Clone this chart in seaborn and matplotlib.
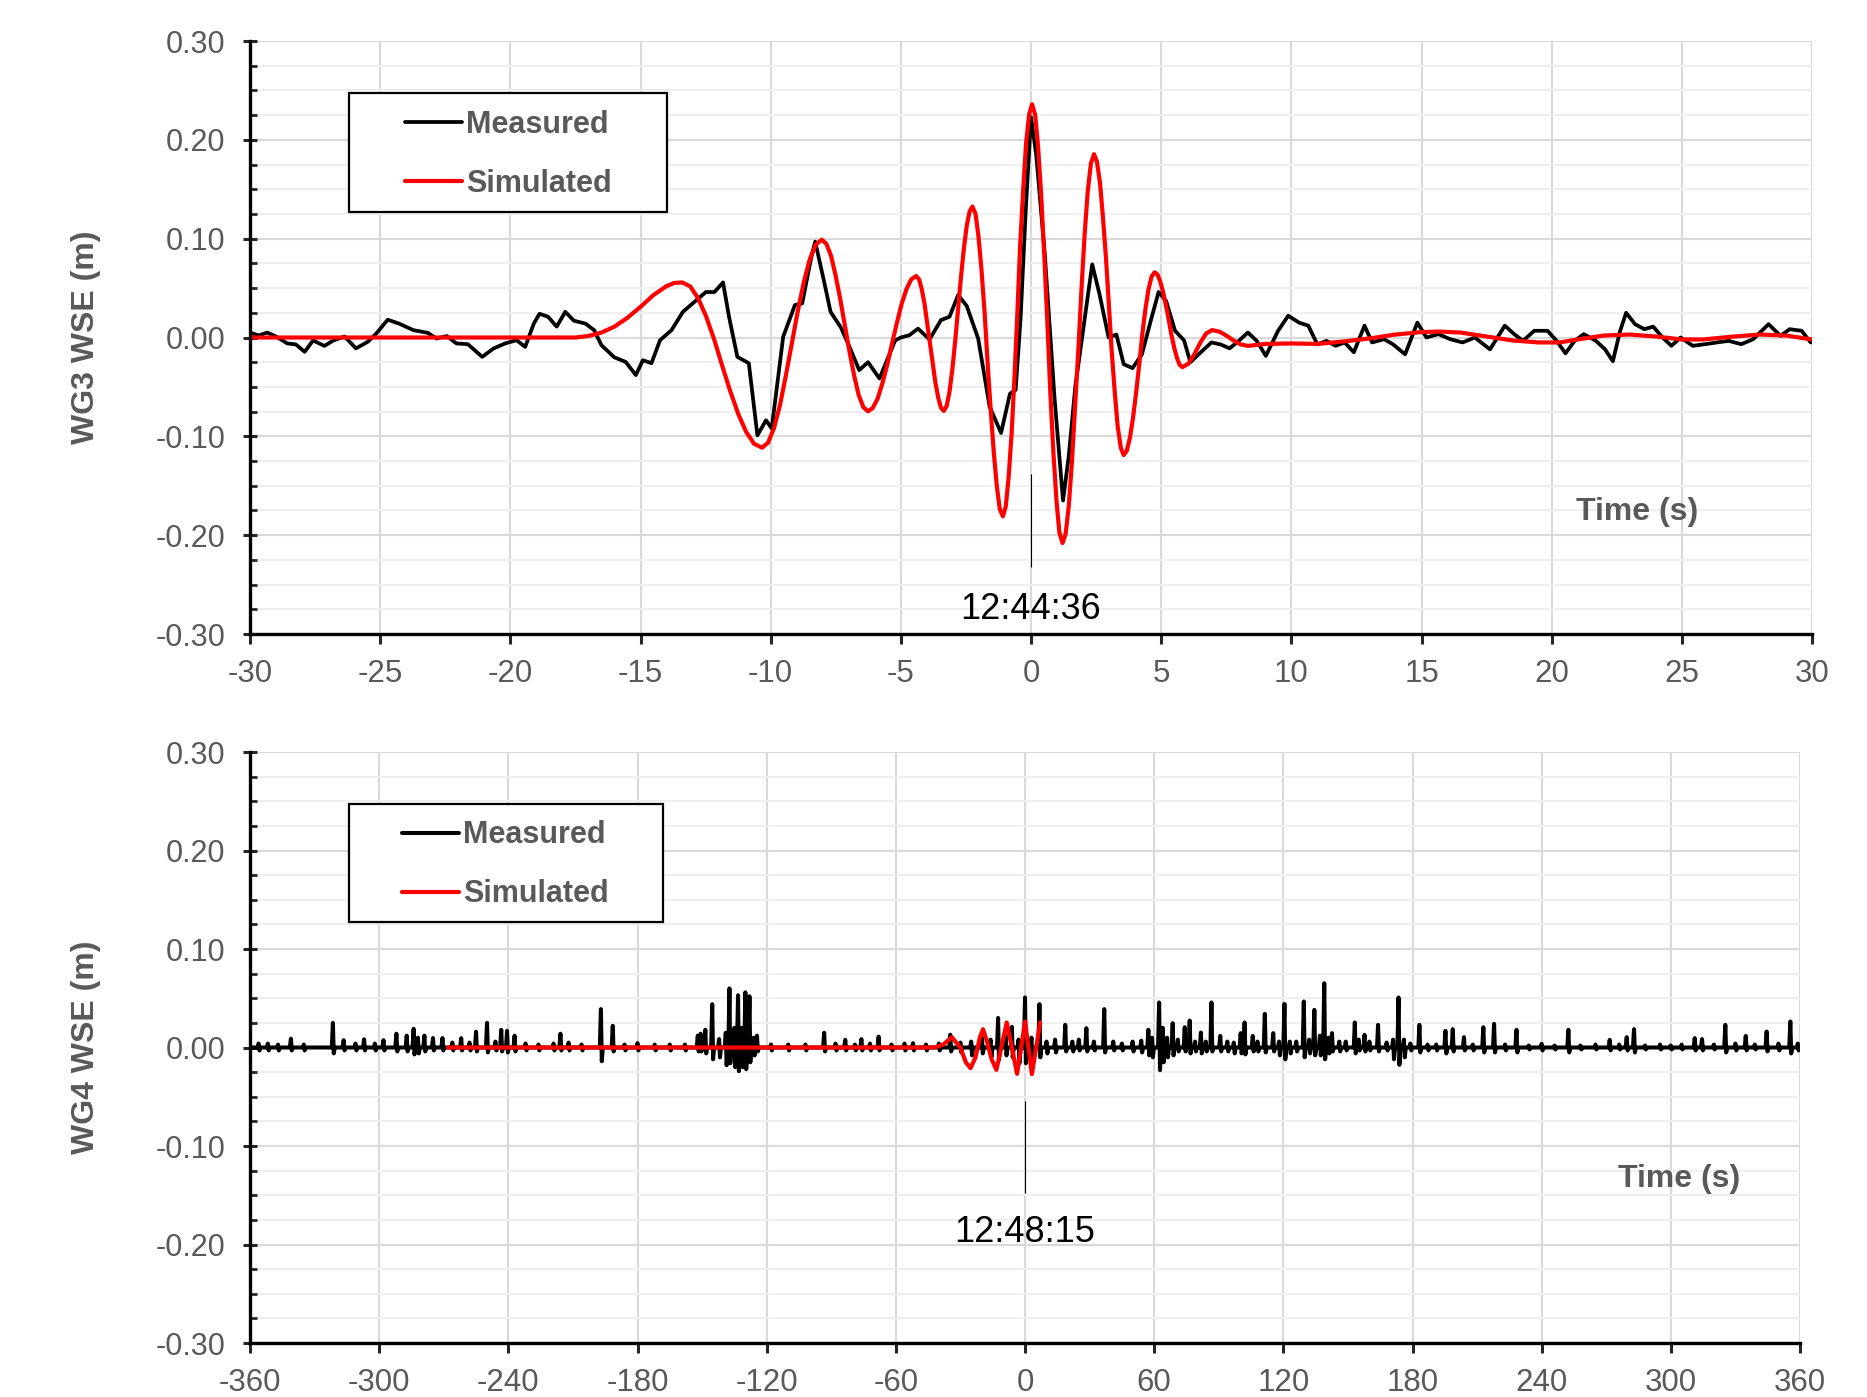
import pandas as pd
import matplotlib.pyplot as plt
import seaborn as sns
from matplotlib.patches import Rectangle
from matplotlib.ticker import MultipleLocator

# ---- WG3: measured vs simulated water surface elevation (time in s, WSE in m)
wg3_meas_t = [-30.0, -29.67, -29.34, -29.0, -28.57, -28.24, -27.9, -27.58, -27.14, -26.8,
              -26.37, -25.93, -25.48, -25.15, -24.71, -24.27, -23.72, -23.17, -22.84, -22.44,
              -22.07, -21.63, -21.08, -20.64, -20.2, -19.76, -19.43, -19.1, -18.88, -18.55,
              -18.22, -17.89, -17.56, -17.11, -16.78, -16.5, -16.01, -15.57, -15.18, -14.91,
              -14.58, -14.25, -13.81, -13.37, -12.93, -12.49, -12.16, -11.83, -11.6, -11.28,
              -10.84, -10.51, -10.18, -9.96, -9.52, -9.07, -8.79, -8.45, -8.29, -7.96,
              -7.7, -7.3, -7.03, -6.6, -6.26, -5.82, -5.22, -5.0, -4.67, -4.34,
              -3.9, -3.46, -3.13, -2.8, -2.47, -2.03, -1.59, -1.15, -0.81, -0.59,
              -0.4, -0.2, 0.0, 0.2, 0.53, 0.9, 1.23, 1.45, 1.7, 2.05,
              2.35, 2.63, 2.98, 3.28, 3.56, 3.9, 4.26, 4.6, 4.9, 5.19,
              5.53, 5.88, 6.12, 6.58, 6.93, 7.28, 7.63, 7.98, 8.33, 8.67,
              9.02, 9.49, 9.88, 10.3, 10.65, 11.0, 11.35, 11.7, 12.05, 12.4,
              12.81, 13.1, 13.56, 13.9, 14.37, 14.84, 15.19, 15.65, 16.1, 16.58,
              17.05, 17.63, 18.2, 18.56, 18.9, 19.33, 19.84, 20.19, 20.53, 20.88,
              21.23, 21.7, 22.05, 22.35, 22.63, 22.86, 23.2, 23.56, 23.9, 24.26,
              24.6, 24.95, 25.42, 25.88, 26.35, 26.8, 27.28, 27.74, 28.33, 28.79,
              29.14, 29.6, 29.95]
wg3_meas_v = [0.005, 0.002, 0.005, 0.001, -0.006, -0.007, -0.0145, -0.003, -0.0085, -0.003,
              0.001, -0.011, -0.0044, 0.004, 0.018, 0.014, 0.0074, 0.0047, -0.001, 0.0014,
              -0.006, -0.0068, -0.0196, -0.011, -0.006, -0.0027, -0.0095, 0.014, 0.024, 0.021,
              0.011, 0.026, 0.017, 0.014, 0.0074, -0.0078, -0.02, -0.0247, -0.038, -0.023,
              -0.026, -0.0027, 0.0074, 0.026, 0.036, 0.046, 0.046, 0.0557, 0.021, -0.0196,
              -0.026, -0.099, -0.0838, -0.092, 0.0007, 0.0328, 0.0345, 0.08, 0.097, 0.058,
              0.026, 0.01, -0.006, -0.033, -0.025, -0.0415, -0.003, 0.0, 0.0024, 0.009,
              -0.002, 0.0176, 0.021, 0.043, 0.032, -0.001, -0.07, -0.0966, -0.057, -0.053,
              0.02, 0.13, 0.223, 0.185, 0.084, -0.06, -0.165, -0.12, -0.05, 0.017,
              0.074, 0.044, 0.0, 0.003, -0.027, -0.031, -0.017, 0.017, 0.046, 0.037,
              0.007, -0.003, -0.025, -0.0135, -0.005, -0.007, -0.011, -0.0034, 0.005, -0.0034,
              -0.0186, 0.0068, 0.022, 0.015, 0.012, -0.007, -0.0034, -0.0084, -0.005, -0.015,
              0.012, -0.005, -0.0017, -0.0068, -0.017, 0.015, 0.0, 0.0034, -0.0017, -0.005,
              0.0, -0.012, 0.012, 0.0034, -0.0034, 0.0068, 0.0068, -0.0034, -0.016, -0.0034,
              0.0034, -0.0034, -0.012, -0.024, 0.0068, 0.025, 0.0135, 0.0084, 0.011, 0.0,
              -0.0084, 0.0, -0.0084, -0.0068, -0.005, -0.0034, -0.0068, -0.0017, 0.0135, 0.0017,
              0.0084, 0.0068, -0.005]

wg3_sim_t = [-30.0, -17.5, -17.0, -16.5, -16.0, -15.5, -15.0, -14.5, -14.0, -13.7, -13.4,
             -13.09, -12.79, -12.48, -12.17, -11.87, -11.56, -11.25, -10.94, -10.64, -10.33,
             -10.10, -9.87, -9.64, -9.42, -9.19, -8.96, -8.73, -8.50, -8.27, -8.04,
             -7.86, -7.68, -7.51, -7.33, -7.15, -6.97, -6.79, -6.62, -6.44, -6.26,
             -6.08, -5.89, -5.71, -5.52, -5.34, -5.15, -4.97, -4.78, -4.60, -4.41,
             -4.30, -4.20, -4.09, -3.99, -3.88, -3.77, -3.67, -3.56, -3.46, -3.35,
             -3.24, -3.13, -3.02, -2.91, -2.80, -2.69, -2.58, -2.47, -2.36, -2.25,
             -2.13, -2.02, -1.90, -1.78, -1.67, -1.55, -1.43, -1.31, -1.20, -1.08,
             -0.97, -0.86, -0.74, -0.63, -0.52, -0.42, -0.30, -0.19, -0.07, 0.04,
             0.16, 0.27, 0.39, 0.51, 0.63, 0.74, 0.86, 0.98, 1.09, 1.21,
             1.33, 1.45, 1.57, 1.69, 1.82, 1.94, 2.06, 2.18, 2.30, 2.42,
             2.53, 2.65, 2.76, 2.88, 2.99, 3.10, 3.22, 3.33, 3.45, 3.56,
             3.68, 3.80, 3.92, 4.04, 4.16, 4.27, 4.39, 4.51, 4.63, 4.75,
             4.86, 4.96, 5.07, 5.18, 5.29, 5.39, 5.50, 5.61, 5.71, 5.82,
             6.05, 6.27, 6.50, 6.72, 6.95, 7.23, 7.50, 7.78, 8.05, 8.33,
             9.0, 10.0, 11.0, 12.0, 13.0, 14.0, 15.0, 15.7, 16.5, 17.5, 18.5, 19.5,
             20.3, 21.0, 22.0, 23.0, 24.0, 25.0, 25.8, 27.0, 28.0, 29.0, 30.0]
wg3_sim_v = [0.0, 0.0, 0.0015, 0.005, 0.011, 0.02, 0.031, 0.043, 0.052, 0.0552, 0.0557,
             0.0517, 0.0398, 0.0213, -0.002, -0.0279, -0.0538, -0.0771, -0.0956, -0.1075, -0.1115,
             -0.1064, -0.0915, -0.0681, -0.0389, -0.0063, 0.0264, 0.0557, 0.0790, 0.0939, 0.099,
             0.0948, 0.0825, 0.0632, 0.0391, 0.0122, -0.0148, -0.0389, -0.0582, -0.0705, -0.0747,
             -0.0714, -0.0617, -0.0465, -0.0275, -0.0063, 0.0150, 0.0340, 0.0492, 0.0589, 0.0622,
             0.0589, 0.0492, 0.0341, 0.0151, -0.0061, -0.0272, -0.0462, -0.0613, -0.0710, -0.0743,
             -0.0693, -0.0547, -0.0317, -0.0030, 0.0291, 0.0612, 0.0899, 0.1129, 0.1275, 0.1325,
             0.1250, 0.1027, 0.0679, 0.0243, -0.0243, -0.0728, -0.1164, -0.1512, -0.1735, -0.181,
             -0.171, -0.1414, -0.0951, -0.0371, 0.0275, 0.0921, 0.1501, 0.1964, 0.2260, 0.236,
             0.2253, 0.1938, 0.1445, 0.0828, 0.014, -0.0548, -0.1165, -0.1658, -0.1973, -0.208,
             -0.1986, -0.1706, -0.1269, -0.0722, -0.0113, 0.0497, 0.1044, 0.1481, 0.1761, 0.1855,
             0.1782, 0.1566, 0.1228, 0.0805, 0.0333, -0.0140, -0.0563, -0.0901, -0.1117, -0.119,
             -0.1146, -0.1014, -0.0809, -0.0552, -0.0265, 0.0022, 0.0279, 0.0484, 0.0616, 0.066,
             0.0637, 0.0569, 0.0462, 0.0329, 0.018, 0.0031, -0.0102, -0.0209, -0.0277, -0.030,
             -0.0264, -0.0171, -0.0054, 0.0039, 0.0075, 0.006, 0.002, -0.003, -0.007, -0.0085,
             -0.0065, -0.006, -0.0065, -0.004, -0.001, 0.003, 0.0055, 0.006, 0.005, 0.001, -0.003, -0.005,
             -0.005, -0.002, 0.002, 0.003, 0.001, -0.002, -0.002, 0.001, 0.003, 0.002, -0.002]

# ---- WG4: measured record is a flat trace with spikes (time, crest, trough right after)
wg4_spike_t = [-356, -351.7, -347, -341, -335, -321.5, -316.5, -311, -307, -302,
               -298, -292, -287.2, -284, -282, -279, -275, -270.6, -266, -261.9,
               -258, -255, -249.9, -246, -243.3, -240.6, -237.1, -232, -226, -219,
               -215.8, -212, -206, -197, -191.5, -186, -180, -172, -165, -158,
               -152, -150.7, -148.5, -145.3, -142.1, -139, -137.3, -135, -133.3, -131.5,
               -129.9, -128, -126, -124.5, -118, -110, -102, -93.3, -88, -83.5,
               -79, -76, -72, -68, -62, -56, -52, -46, -40, -34.7,
               -30, -25, -20, -16, -12.5, -9, -6.1, -3, 0, 3,
               6.7, 10, 14, 18.7, 22, 25, 28.5, 32, 36.8, 41,
               45, 50, 54, 57.3, 59, 62.3, 64, 66, 68.6, 71,
               74.2, 76.5, 79, 81.7, 84, 86.6, 90.7, 94, 97, 100.2,
               102, 105.8, 108, 111.4, 115.3, 118, 120.5, 123, 126, 129.5,
               132, 134.4, 137, 139, 141, 142.6, 146, 149, 153.2, 155,
               157.7, 160, 164, 168, 171, 173.5, 176, 179, 183.2, 187,
               191, 195.3, 198.7, 203.9, 208, 212.9, 217.9, 223, 228.3, 234,
               240, 246, 252.4, 258, 265, 271.6, 276, 279.5, 282.9, 288,
               295, 300, 305, 311.1, 314.5, 320, 325.3, 330, 334.8, 339,
               344.5, 350, 355.5, 359]
wg4_spike_top = [0.004, 0.004, 0.003, 0.009, 0.003, 0.025, 0.0074, 0.004, 0.0083, 0.004,
                 0.0074, 0.014, 0.012, 0.019, 0.01, 0.012, 0.0096, 0.0096, 0.005, 0.0095,
                 0.005, 0.016, 0.025, 0.006, 0.018, 0.017, 0.012, 0.004, 0.003, 0.004,
                 0.014, 0.005, 0.003, 0.039, 0.022, 0.003, 0.0044, 0.003, 0.003, 0.003,
                 0.012, 0.014, 0.018, 0.044, 0.0085, 0.015, 0.060, 0.02, 0.053, 0.02,
                 0.056, 0.052, 0.01, 0.012, 0.003, 0.003, 0.003, 0.015, 0.004, 0.0078,
                 0.003, 0.0085, 0.004, 0.011, 0.003, 0.004, 0.0044, 0.003, 0.004, 0.013,
                 0.005, 0.006, 0.01, 0.008, 0.030, 0.012, 0.021, 0.008, 0.0508, 0.01,
                 0.044, 0.006, 0.008, 0.023, 0.006, 0.008, 0.0196, 0.006, 0.039, 0.006,
                 0.004, 0.006, 0.007, 0.018, 0.01, 0.0457, 0.02, 0.01, 0.0247, 0.008,
                 0.0206, 0.0274, 0.006, 0.0152, 0.006, 0.0457, 0.0118, 0.006, 0.005, 0.0146,
                 0.0254, 0.0118, 0.006, 0.0342, 0.0146, 0.006, 0.0443, 0.006, 0.006, 0.0467,
                 0.008, 0.0382, 0.012, 0.0653, 0.01, 0.0146, 0.006, 0.006, 0.0254, 0.008,
                 0.0129, 0.006, 0.023, 0.005, 0.008, 0.0508, 0.008, 0.004, 0.023, 0.003,
                 0.003, 0.0169, 0.0186, 0.0105, 0.003, 0.0206, 0.024, 0.003, 0.018, 0.002,
                 0.0037, 0.002, 0.018, 0.002, 0.003, 0.0078, 0.003, 0.0105, 0.0186, 0.002,
                 0.003, 0.002, 0.003, 0.0095, 0.0085, 0.003, 0.023, 0.004, 0.0118, 0.003,
                 0.0162, 0.004, 0.0264, 0.004]
wg4_spike_low = [-0.003, -0.003, -0.003, -0.003, -0.003, -0.006, -0.003, -0.003, -0.003, -0.003,
                 -0.003, -0.004, -0.004, -0.007, -0.006, -0.004, -0.003, -0.003, -0.003, -0.003,
                 -0.003, -0.004, -0.005, -0.003, -0.004, -0.005, -0.004, -0.003, -0.003, -0.003,
                 -0.003, -0.003, -0.003, -0.014, -0.004, -0.003, -0.003, -0.003, -0.003, -0.003,
                 -0.004, -0.004, -0.006, -0.012, -0.01, -0.018, -0.016, -0.02, -0.024, -0.02,
                 -0.022, -0.015, -0.008, -0.004, -0.003, -0.003, -0.003, -0.004, -0.003, -0.003,
                 -0.003, -0.003, -0.003, -0.003, -0.003, -0.003, -0.003, -0.003, -0.003, -0.004,
                 -0.005, -0.008, -0.006, -0.01, -0.0125, -0.008, -0.01, -0.016, -0.016, -0.012,
                 -0.01, -0.006, -0.005, -0.004, -0.004, -0.003, -0.004, -0.003, -0.005, -0.003,
                 -0.003, -0.004, -0.005, -0.008, -0.01, -0.023, -0.015, -0.01, -0.008, -0.004,
                 -0.004, -0.006, -0.004, -0.006, -0.004, -0.004, -0.004, -0.004, -0.006, -0.006,
                 -0.007, -0.004, -0.004, -0.005, -0.004, -0.008, -0.012, -0.006, -0.004, -0.01,
                 -0.006, -0.008, -0.008, -0.012, -0.006, -0.004, -0.004, -0.003, -0.006, -0.003,
                 -0.004, -0.003, -0.004, -0.003, -0.012, -0.0176, -0.01, -0.003, -0.005, -0.003,
                 -0.003, -0.006, -0.004, -0.003, -0.003, -0.005, -0.005, -0.003, -0.005, -0.002,
                 -0.003, -0.002, -0.005, -0.002, -0.002, -0.003, -0.002, -0.003, -0.005, -0.002,
                 -0.002, -0.002, -0.002, -0.003, -0.003, -0.002, -0.005, -0.003, -0.003, -0.002,
                 -0.004, -0.003, -0.006, -0.003]

wg4_sim_t = [-268, -42, -38, -34, -30, -27.5, -25.3, -23, -21, -19.5, -17.5, -15.5,
             -13.3, -11, -8.5, -6.1, -3.7, -1.8, 0, 1.6, 3.2, 5.2, 7.0]
wg4_sim_v = [0.0, 0.0, 0.003, 0.0105, 0.0, -0.015, -0.021, -0.01, 0.01, 0.0186, 0.005, -0.012,
             -0.0227, 0.0, 0.0254, 0.0, -0.0267, 0.0, 0.0264, 0.0, -0.027, 0.0, 0.0254]

# axis ticks and annotations
wg3_xticks = list(range(-30, 31, 5))
wg4_xticks = list(range(-360, 361, 60))
y_ticks = [-0.30, -0.20, -0.10, 0.00, 0.10, 0.20, 0.30]
wg3_peak_label, wg3_mark_y, wg3_label_y = '12:44:36', (-0.138, -0.232), -0.275
wg4_peak_label, wg4_mark_y, wg4_label_y = '12:48:15', (-0.054, -0.148), -0.188

# build the spike trace for WG4 measured
spk_t, spk_v = [-360.0], [0.0]
for t, hi, lo in zip(wg4_spike_t, wg4_spike_top, wg4_spike_low):
    spk_t += [t - 0.5, t, t + 0.4, t + 0.9]
    spk_v += [0.0, hi, lo, 0.0]
spk_t.append(360.0)
spk_v.append(0.0)

df3m = pd.DataFrame({'t': wg3_meas_t, 'wse': wg3_meas_v})
df3s = pd.DataFrame({'t': wg3_sim_t, 'wse': wg3_sim_v})
df4m = pd.DataFrame({'t': spk_t, 'wse': spk_v})
df4s = pd.DataFrame({'t': wg4_sim_t, 'wse': wg4_sim_v})

sns.set_theme(style='white')
plt.rcParams['font.family'] = ['Liberation Sans', 'DejaVu Sans']

GREY = '#595959'
fig = plt.figure(figsize=(18.67, 13.97), dpi=100)
ax1 = fig.add_axes([0.13391, 0.54617, 0.83664, 0.42448])
ax2 = fig.add_axes([0.13391, 0.03865, 0.83021, 0.42305])


def style_axes(ax, xticks, ylabel, label_x):
    ax.set_xlim(xticks[0], xticks[-1])
    ax.set_ylim(-0.30, 0.30)
    ax.set_xticks(xticks, labels=[str(v) for v in xticks])
    ax.set_yticks(y_ticks, labels=[f'{v:.2f}' for v in y_ticks])
    ax.yaxis.set_minor_locator(MultipleLocator(0.025))
    ax.set_axisbelow(True)
    ax.grid(which='major', color='#d9d9d9', lw=1.5)
    ax.yaxis.grid(which='minor', color='#efefef', lw=1.5)
    for side in ['top', 'right']:
        ax.spines[side].set_visible(False)
    for side in ['left', 'bottom']:
        ax.spines[side].set_color('black')
        ax.spines[side].set_linewidth(2.4)
    ax.tick_params(axis='y', which='major', direction='inout', length=10, width=2.2,
                   left=True, labelsize=22, labelcolor=GREY, pad=13)
    ax.tick_params(axis='y', which='minor', direction='in', length=5, width=2.0, left=True)
    ax.tick_params(axis='x', which='major', direction='out', length=7, width=2.2,
                   bottom=True, labelsize=22.5, labelcolor=GREY, pad=11)
    ax.set_xlabel('')
    ax.set_ylabel(ylabel, fontsize=23, fontweight='bold', color=GREY, va='center')
    ax.yaxis.set_label_coords(label_x, 0.5)


# top panel
sns.lineplot(data=df3m, x='t', y='wse', ax=ax1, color='black', lw=2.7,
             estimator=None, sort=False, label='Measured')
sns.lineplot(data=df3s, x='t', y='wse', ax=ax1, color='#ff0000', lw=3.0,
             estimator=None, sort=False, label='Simulated')
style_axes(ax1, wg3_xticks, 'WG3 WSE (m)', -0.105)
ax1.vlines(0, *wg3_mark_y, color='black', lw=0.8)
ax1.text(0, wg3_label_y, wg3_peak_label, ha='center', va='center', fontsize=26, color='black')
ax1.text(23.3, -0.177, 'Time (s)', ha='center', va='center', fontsize=23,
         fontweight='bold', color=GREY)

# bottom panel
sns.lineplot(data=df4m, x='t', y='wse', ax=ax2, color='black', lw=2.9,
             estimator=None, sort=False, label='Measured')
sns.lineplot(data=df4s, x='t', y='wse', ax=ax2, color='#ff0000', lw=3.0,
             estimator=None, sort=False, label='Simulated')
style_axes(ax2, wg4_xticks, 'WG4 WSE (m)', -0.1058)
ax2.vlines(0, *wg4_mark_y, color='black', lw=0.8)
ax2.text(0, wg4_label_y, wg4_peak_label, ha='center', va='center', fontsize=26, color='black')
ax2.text(303.8, -0.134, 'Time (s)', ha='center', va='center', fontsize=23,
         fontweight='bold', color=GREY)

# legends: white box with black frame, entries on top
for ax, box, anchor in [(ax1, (0.1869, 0.84825, 0.1703, 0.0852), (0.2169, 0.9212)),
                        (ax2, (0.1869, 0.3403, 0.1683, 0.0844), (0.2153, 0.4128))]:
    ax.add_patch(Rectangle(box[:2], box[2], box[3], transform=fig.transFigure,
                           facecolor='white', edgecolor='black', lw=1.6, zorder=5))
    leg = ax.legend(loc='upper left', bbox_to_anchor=anchor, bbox_transform=fig.transFigure,
                    frameon=False, borderpad=0, borderaxespad=0, handlelength=1.86,
                    handletextpad=0.15, labelspacing=0.95,
                    prop={'size': 22, 'weight': 'bold'})
    for txt in leg.get_texts():
        txt.set_color(GREY)
    leg.set_zorder(6)

fig.savefig('out.png', dpi=100)
